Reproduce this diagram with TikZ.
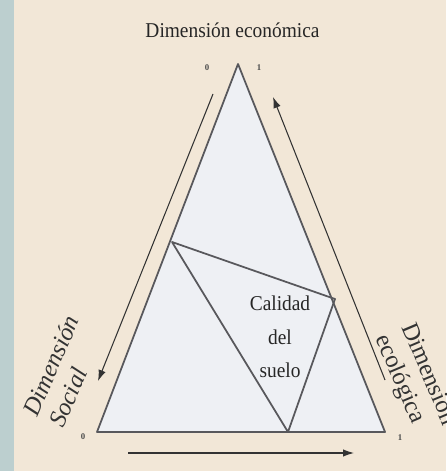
\documentclass[tikz,border=0pt]{standalone}
\usepackage{fontspec}
\setmainfont{Liberation Serif}
\usetikzlibrary{calc,positioning,arrows.meta}

\definecolor{paper}{HTML}{F2E7D7}
\definecolor{strip}{HTML}{BCCFCF}
\definecolor{trifill}{HTML}{EEF0F4}
\definecolor{edge}{HTML}{58585C}

\begin{document}
\begin{tikzpicture}[>={Latex[length=2.2mm,width=1.5mm]},
  side/.style={draw=edge,line width=1pt,line join=round},
  axis/.style={->,draw=black!80,line width=0.6pt},
  num/.style={font=\fontsize{5}{6}\selectfont\bfseries,text=black!70,inner sep=0pt},
  lab/.style={font=\fontsize{12}{19}\selectfont,text=black!85,xscale=0.92,align=center},
  dim/.style={font=\fontsize{14}{14}\selectfont,text=black!80,align=left,inner sep=0pt}]
  % paper
  \fill[paper] (0,0) rectangle (8.92,9.42);
  \fill[strip] (0,0) rectangle (0.28,9.42);
  \useasboundingbox (0,0) rectangle (8.92,9.42);
  % corners of the triangle
  \coordinate (eco) at (4.76,8.14);
  \coordinate (soc) at (1.94,0.78);
  \coordinate (eco2) at (7.70,0.78);
  % quality triangle
  \coordinate (p) at (3.44,4.58);
  \coordinate (q) at (6.70,3.44);
  \coordinate (r) at (5.76,0.78);
  \fill[trifill] (eco)--(soc)--(eco2)--cycle;
  \draw[side] (eco)--(soc)--(eco2)--cycle;
  \draw[side] (p)--(q)--(r)--cycle;
  % axes
  \coordinate (a1) at (4.26,7.54);
  \coordinate (a2) at (1.96,1.80);
  \coordinate (b1) at (7.70,1.82);
  \coordinate (b2) at (5.46,7.48);
  \coordinate (c1) at (2.56,0.36);
  \coordinate (c2) at (7.08,0.36);
  \draw[axis] (a1)--(a2);
  \draw[axis] (b1)--(b2);
  \draw[axis] (c1)--(c2);
  % scale marks
  \node[num] (n0) at (4.14,8.06) {0};
  \node[num] (n1) at (5.18,8.06) {1};
  \node[num] (m0) at (1.66,0.68) {0};
  \node[num] (m1) at (8.00,0.66) {1};
  % labels
  \node[lab] (title) at (4.65,8.82) {Dimensión económica};
  \node[lab] (calidad) at (5.60,2.68) {Calidad\\del\\suelo};
  \node[dim,rotate=67,font=\fontsize{14}{16}\selectfont\itshape] (social) at (1.28,2.00) {Dimensión\\Social};
  \node[dim,rotate=-67,font=\fontsize{14}{16}\selectfont] (ecol) at (8.30,1.82) {Dimensión\\ecológica};
\end{tikzpicture}
\end{document}
